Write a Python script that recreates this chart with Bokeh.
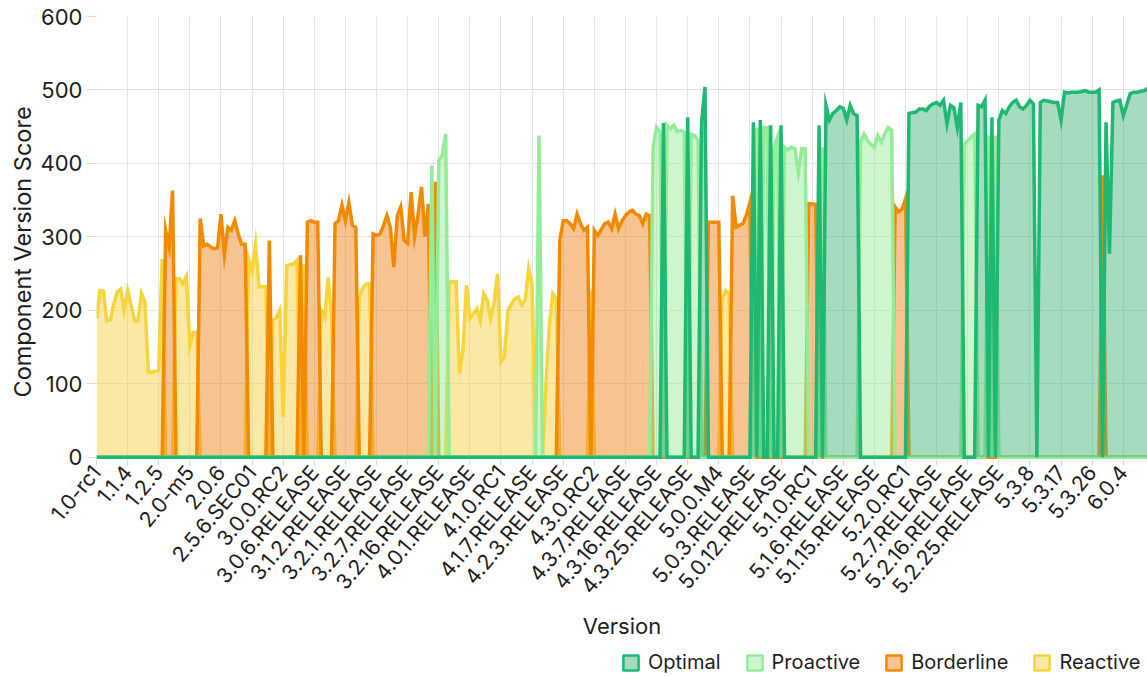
import math
from bokeh.plotting import figure
from bokeh.layouts import column
from bokeh.models import Range1d, FixedTicker, Legend, LegendItem, Title
from bokeh.core.properties import value
from bokeh.embed import file_html
from bokeh.resources import INLINE

# ---------------- data ----------------
tick_labels = ["1.0-rc1", "1.1.4", "1.2.5", "2.0-m5", "2.0.6", "2.5.6.SEC01",
               "3.0.0.RC2", "3.0.6.RELEASE", "3.1.2.RELEASE", "3.2.1.RELEASE",
               "3.2.7.RELEASE", "3.2.16.RELEASE", "4.0.1.RELEASE", "4.1.0.RC1",
               "4.1.7.RELEASE", "4.2.3.RELEASE", "4.3.0.RC2", "4.3.7.RELEASE",
               "4.3.16.RELEASE", "4.3.25.RELEASE", "5.0.0.M4", "5.0.3.RELEASE",
               "5.0.12.RELEASE", "5.1.0.RC1", "5.1.6.RELEASE", "5.1.15.RELEASE",
               "5.2.0.RC1", "5.2.7.RELEASE", "5.2.16.RELEASE", "5.2.25.RELEASE",
               "5.3.8", "5.3.17", "5.3.26", "6.0.4"]
label_every = 9  # one labelled version every 9 versions

# consecutive runs of versions: level of the run and the scores in it
# O = Optimal, P = Proactive, B = Borderline, R = Reactive, N = no score
run_levels = ["R", "B", "R", "B", "R", "B", "R", "B", "R", "B", "R", "B", "R",
              "B", "P", "B", "P", "R", "N", "P", "N", "R", "B", "R", "B",
              "P", "O", "P", "O", "P", "O", "B", "R", "B",
              "O", "P", "O", "P", "O", "P", "O", "P", "B", "O", "P", "O", "P", "B",
              "O", "P", "O", "P", "O", "P", "O", "N", "O", "B", "O"]
run_scores = [
    [189, 227, 226, 186, 187, 208, 225, 229, 200, 227, 207, 186, 186, 223, 211, 116, 116, 117, 118, 270],
    [309, 286, 363],
    [243, 243, 236, 246, 152, 170, 170],
    [325, 288, 290, 286, 284, 285, 331, 276, 313, 309, 322, 304, 290, 290],
    [270, 254, 290, 232, 232, 232],
    [295],
    [186, 190, 200, 55, 261, 262, 263, 268],
    [275],
    [263],
    [320, 322, 320, 320],
    [200, 191, 245, 191],
    [318, 322, 343, 322, 347, 316, 313],
    [218, 230, 236, 236],
    [304, 302, 304, 315, 329, 313, 259, 329, 341, 295, 291, 361, 300, 330, 368, 300, 345],
    [397],
    [375],
    [404, 411, 440],
    [239, 239, 239, 114, 146, 234, 189, 195, 202, 186, 223, 214, 189, 210, 250, 130, 137, 200,
     208, 216, 218, 207, 214, 257, 236],
    [0],
    [438],
    [0],
    [100, 180, 223, 216],
    [295, 322, 322, 318, 311, 331, 318, 309, 313],
    [227],
    [309, 302, 310, 318, 320, 311, 331, 311, 322, 329, 334, 336, 331, 329, 318, 331, 329],
    [422, 449, 443],
    [455],
    [452, 447, 452, 443, 445, 443],
    [463],
    [440, 438, 431],
    [456, 504],
    [320, 320, 320, 320],
    [216, 227, 222],
    [356, 313, 316, 318, 330, 347],
    [456],
    [449],
    [459],
    [449, 449],
    [452],
    [422, 436],
    [452],
    [422, 418, 422, 420, 388, 420, 420],
    [345, 345, 344],
    [452],
    [422],
    [479, 459, 468, 472, 477, 475, 459, 479, 468, 465],
    [429, 440, 431, 426, 422, 438, 429, 440, 449, 445],
    [341, 334, 338, 352],
    [468, 469, 470, 474, 474, 472, 478, 481, 483, 479, 486, 454, 479, 476, 449, 483],
    [425, 431, 436, 440],
    [479, 477, 486],
    [438],
    [463],
    [438],
    [459, 472, 468, 477, 483, 486, 477, 474, 479, 486, 481],
    [0],
    [483, 486, 485, 484, 483, 483, 459, 497, 496, 497, 497, 497, 498, 499, 497, 497, 497, 500],
    [384],
    [456, 277, 483, 485, 486, 465, 480, 495, 497, 497, 498, 499, 502],
]

series_names = ["Optimal", "Proactive", "Borderline", "Reactive"]
series_codes = ["O", "P", "B", "R"]
line_colors = ["#1fb872", "#93ec97", "#f28a00", "#f6d43c"]
fill_colors = ["#4bb77f", "#9deb9d", "#ef8723", "#f5d149"]

# ---------------- build ----------------
levels, scores = [], []
for lv, vals in zip(run_levels, run_scores):
    levels += [lv] * len(vals)
    scores += vals
n = len(scores)
xs = list(range(n))

FONT = "Inter"
TXT = "#1e1e1e"

p = figure(width=1147, height=648, x_range=Range1d(0, n - 1), y_range=Range1d(-3, 600),
           output_backend="svg", toolbar_location=None,
           min_border_left=96, min_border_right=0, min_border_top=16, min_border_bottom=189)
p.outline_line_color = None

for name, code, lc, fc in reversed(list(zip(series_names, series_codes, line_colors, fill_colors))):
    ys = [s if l == code else 0 for s, l in zip(scores, levels)]
    p.varea(x=xs, y1=[0] * n, y2=ys, fill_color=fc, fill_alpha=0.5)
    p.line(x=xs, y=ys, line_color=lc, line_width=3.5, line_join="miter")

tick_pos = [i * label_every for i in range(len(tick_labels))]
p.xaxis.ticker = FixedTicker(ticks=tick_pos)
p.xaxis.major_label_overrides = {t: lab for t, lab in zip(tick_pos, tick_labels)}
p.xaxis.major_label_orientation = math.radians(50)
p.yaxis.ticker = FixedTicker(ticks=[0, 100, 200, 300, 400, 500, 600])
p.xgrid.grid_line_color = "#e3e3e3"
p.ygrid.grid_line_color = "#e3e3e3"

for ax in (p.xaxis[0], p.yaxis[0]):
    ax.axis_line_color = None
    ax.minor_tick_line_color = None
    ax.major_tick_in = 0
    ax.major_tick_line_color = "#dcdcdc"
    ax.major_label_text_font = FONT
    ax.major_label_text_color = TXT
    ax.axis_label_text_font = FONT
    ax.axis_label_text_font_style = "normal"
    ax.axis_label_text_color = TXT

p.xaxis.major_tick_out = 6
p.xaxis.major_label_text_font_size = "21px"
p.xaxis.major_label_standoff = 3
p.xaxis.axis_label = "Version"
p.xaxis.axis_label_text_font_size = "22px"
p.xaxis.axis_label_standoff = 3

p.yaxis.major_tick_out = 10
p.yaxis.major_label_text_font_size = "22px"
p.yaxis.major_label_standoff = 4

ytitle = Title(text="Component Version Score", align="left", offset=62, standoff=2,
               text_font=FONT, text_font_size="23.5px", text_font_style="normal", text_color=TXT)
p.add_layout(ytitle, "left")

# legend strip below the chart (its frame is aligned with the chart frame)
lg = figure(width=1147, height=28, x_range=Range1d(0, 1), y_range=Range1d(0, 1),
            output_backend="svg", toolbar_location=None, min_border=0,
            x_axis_location=None, y_axis_location=None)
lg.outline_line_color = None
lg.grid.visible = False
items = []
for name, lc, fc in zip(series_names, line_colors, fill_colors):
    r = lg.quad(left=[-3], right=[-2], top=[-2], bottom=[-3], fill_color=fc, fill_alpha=0.5,
                line_color=lc, line_width=2.5)
    items.append(LegendItem(label=value(name), renderers=[r]))
legend = Legend(items=items, orientation="horizontal", location=(525, 2), margin=0, padding=0,
                glyph_width=19, glyph_height=19, label_standoff=8, spacing=24,
                label_text_font=FONT, label_text_font_size="20px", label_text_color=TXT,
                border_line_color=None, background_fill_alpha=0)
lg.add_layout(legend, "center")

open("out.html", "w").write(file_html(column(p, lg, spacing=0), INLINE))
